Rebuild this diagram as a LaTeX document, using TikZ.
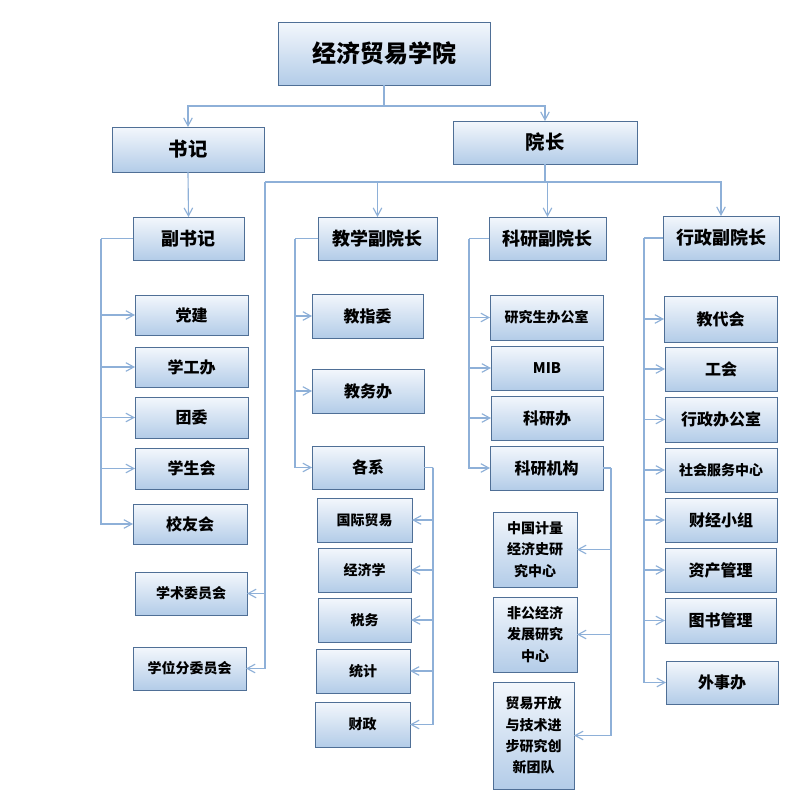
\documentclass[tikz,border=0pt]{standalone}
\usepackage{fontspec}
\setmainfont{Noto Sans CJK SC}
\usetikzlibrary{arrows.meta,calc}
\definecolor{lc}{HTML}{8EB0D8}
\definecolor{bc}{HTML}{4F6F96}
\definecolor{ftop}{HTML}{F3F7FC}
\definecolor{fbot}{HTML}{B3CCE8}
\newcommand\mybox[6][]{\node[box,minimum width=#4*0.75pt,minimum height=#5*0.75pt,#1] (#2) at (#3) {#6};}
\tikzset{
  box/.style={draw=bc,line width=0.7pt,top color=ftop,bottom color=fbot,inner sep=0pt,outer sep=0pt,align=center,font=\bfseries\fontsize{12pt}{15pt}\selectfont},
  f1/.style={font=\bfseries\fontsize{18pt}{21pt}\selectfont},
  f2/.style={font=\bfseries\fontsize{14.5pt}{17pt}\selectfont},
  f3/.style={font=\bfseries\fontsize{13.5pt}{16pt}\selectfont},
  fs/.style={font=\bfseries\fontsize{10.5pt}{16pt}\selectfont},
  ln/.style={draw=lc,line width=0.85pt},
  arr/.style={ln,-{Straight Barb[length=6pt,width=6.5pt]}}
}
\begin{document}
\begin{tikzpicture}[x=0.75pt,y=-0.75pt]
\fill[white] (0,0) rectangle (793,811);
\useasboundingbox (0,0) rectangle (793,811);
% top levels
\mybox[f1]{root}{384,53.5}{212}{63}{经济贸易学院}
\mybox[f2]{sj}{188,149.5}{152}{45}{书记}
\mybox[f2]{yz}{545,142.5}{184}{43}{院长}
\mybox[f3]{fsj}{188.5,238.5}{111}{43}{副书记}
\mybox[f3]{jx}{377.5,238.5}{119}{43}{教学副院长}
\mybox[f3]{ky}{547.5,238.5}{117}{43}{科研副院长}
\mybox[f3]{xz}{721,238}{116}{44}{行政副院长}
% left column
\mybox{dj}{191.5,315}{113}{40}{党建}
\mybox{xgb}{191.5,367}{113}{40}{学工办}
\mybox{tw}{191.5,417.5}{113}{41}{团委}
\mybox{xsh}{191.5,468.5}{113}{41}{学生会}
\mybox{xyh}{190,524}{114}{40}{校友会}
\mybox[fs]{xswy}{191,593.5}{112}{43}{学术委员会}
\mybox[fs]{xwfw}{189.5,668.5}{113}{43}{学位分委员会}
% teaching column
\mybox{jzw}{367.5,316}{111}{44}{教指委}
\mybox{jwb}{368,391}{112}{44}{教务办}
\mybox{gx}{368,467.5}{112}{43}{各系}
\mybox[fs]{gjmy}{364.5,520}{95}{44}{国际贸易}
\mybox[fs]{jjx}{364.5,570}{93}{44}{经济学}
\mybox[fs]{sw}{364.5,620}{93}{44}{税务}
\mybox[fs]{tj}{363,671}{94}{44}{统计}
\mybox[fs]{cz}{362.5,724.5}{95}{45}{财政}
% research column
\mybox[fs]{yjs}{546.5,317.5}{113}{45}{研究生办公室}
\mybox[font=\bfseries\fontsize{11pt}{14pt}\selectfont]{mib}{547,368}{112}{44}{MIB}
\mybox{kyb}{547,418}{112}{44}{科研办}
\mybox{kyjg}{546.5,468}{113}{44}{科研机构}
\mybox[fs]{zgjl}{535,549.5}{84}{75}{中国计量\\经济史研\\究中心}
\mybox[fs]{fgjj}{535,634.5}{84}{75}{非公经济\\发展研究\\中心}
\mybox[fs]{mykf}{533.5,735.5}{81}{107}{贸易开放\\与技术进\\步研究创\\新团队}
% admin column
\mybox{jdh}{720.5,319}{113}{46}{教代会}
\mybox{gh}{721,369}{112}{44}{工会}
\mybox{xzbgs}{721,419.5}{112}{45}{行政办公室}
\mybox[fs]{shfw}{721,470}{112}{44}{社会服务中心}
\mybox{cjxz}{721,520}{112}{44}{财经小组}
\mybox{zcgl}{720.5,570}{111}{44}{资产管理}
\mybox{tsgl}{720.5,620.5}{111}{45}{图书管理}
\mybox{wsb}{722,682.5}{112}{43}{外事办}
% junction points
\coordinate (j1) at (384,106);
\coordinate (h2) at (545,182);
\coordinate (lv) at (265,182);
\coordinate (fl) at (101,238.5);
\coordinate (jl) at (295,238.5);
\coordinate (gxr) at (433,467.5);
\coordinate (kl) at (469,238.5);
\coordinate (kr) at (611,468);
\coordinate (xl) at (644,238);
% connectors
\draw[ln] (root.south) -- (j1);
\draw[arr] (j1) -| (sj.north);
\draw[arr] (j1) -| (yz.north);
\draw[arr] (sj.south) -- (fsj.north);
\draw[ln] (yz.south) -- (h2);
\draw[ln] (h2) -- (lv);
\draw[arr] (h2) -| (jx.north);
\draw[arr] (h2) -| (ky.north);
\draw[arr] (h2) -| (xz.north);
\draw[arr] (lv) |- (xswy.east);
\draw[arr] (lv) |- (xwfw.east);
\draw[ln] (fsj.west) -- (fl);
\foreach \n in {dj,xgb,tw,xsh,xyh} \draw[arr] (fl) |- (\n.west);
\draw[ln] (jx.west) -- (jl);
\foreach \n in {jzw,jwb,gx} \draw[arr] (jl) |- (\n.west);
\draw[ln] (gx.east) -- (gxr);
\foreach \n in {gjmy,jjx,sw,tj,cz} \draw[arr] (gxr) |- (\n.east);
\draw[ln] (ky.west) -- (kl);
\foreach \n in {yjs,mib,kyb,kyjg} \draw[arr] (kl) |- (\n.west);
\draw[ln] (kyjg.east) -- (kr);
\foreach \n in {zgjl,fgjj,mykf} \draw[arr] (kr) |- (\n.east);
\draw[ln] (xz.west) -- (xl);
\foreach \n in {jdh,gh,xzbgs,shfw,cjxz,zcgl,tsgl,wsb} \draw[arr] (xl) |- (\n.west);
\end{tikzpicture}
\end{document}
